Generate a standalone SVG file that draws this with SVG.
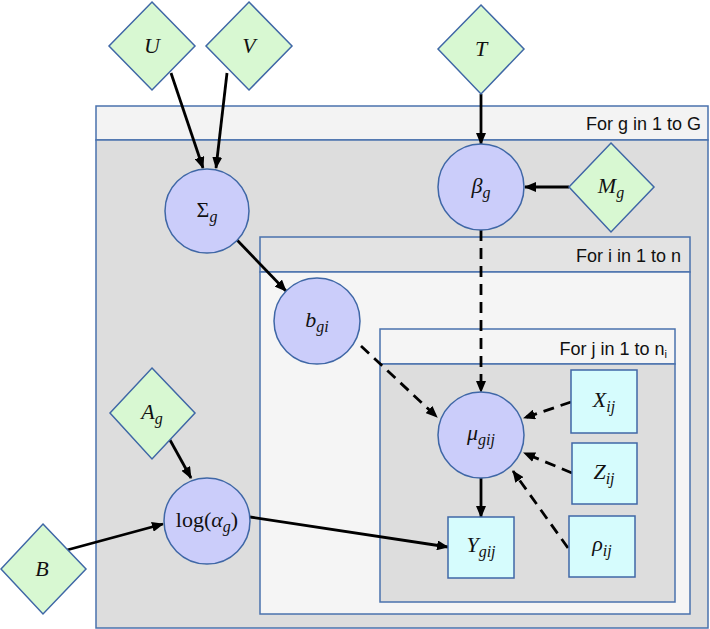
<svg xmlns="http://www.w3.org/2000/svg" width="710" height="629" viewBox="0 0 710 629">
<style>
.pl{stroke:#4a72ad;stroke-width:1.5}
.dm{fill:#d8f8d2;stroke:#3f67a6;stroke-width:1.5}
.ci{fill:#cbcdfa;stroke:#3f67a6;stroke-width:1.5}
.bx{fill:#d6fcfd;stroke:#3f67a6;stroke-width:1.5}
.m{font-family:"Liberation Serif","DejaVu Serif",serif;font-style:italic;font-size:22px;fill:#111;text-anchor:middle}
.up{font-style:normal}
.sub{font-size:16px}
.pt{font-family:"Liberation Sans","Open Sans",sans-serif;font-size:18px;fill:#111;text-anchor:end}
.e{stroke:#000;stroke-width:2.8;fill:none;marker-end:url(#ah)}
.d{stroke-dasharray:11 7}
</style>
<defs>
<marker id="ah" markerUnits="userSpaceOnUse" markerWidth="12" markerHeight="10" refX="11" refY="5" orient="auto">
<path d="M0,0 L12,5 L0,10 z" fill="#000"/>
</marker>
</defs>

<g id="plate-g">
<rect class="pl" x="96" y="106" width="612" height="34" fill="#f3f3f3"/>
<rect class="pl" x="96" y="140" width="612" height="488" fill="#dddddd"/>
<text class="pt" x="701" y="130">For g in 1 to G</text>
</g>
<g id="plate-i">
<rect class="pl" x="260" y="237" width="430" height="35" fill="#e3e3e3"/>
<rect class="pl" x="260" y="272" width="430" height="342" fill="#f5f5f5"/>
<text class="pt" x="681" y="262">For i in 1 to n</text>
</g>
<g id="plate-j">
<rect class="pl" x="380" y="329" width="295" height="35" fill="#f5f5f5"/>
<rect class="pl" x="380" y="364" width="295" height="238" fill="#dddddd"/>
<text class="pt" x="667" y="355">For j in 1 to n<tspan font-size="11" dy="3">i</tspan></text>
</g>

<g id="connectors">
<line class="e" x1="171" y1="73" x2="203" y2="168"/>
<line class="e" x1="227" y1="73" x2="216" y2="168"/>
<line class="e" x1="481" y1="94" x2="481" y2="144"/>
<line class="e" x1="569" y1="187" x2="525" y2="187"/>
<line class="e" x1="237" y1="240" x2="286" y2="291"/>
<line class="e d" x1="481" y1="230" x2="481" y2="392"/>
<line class="e d" x1="361" y1="346" x2="437" y2="417"/>
<line class="e d" x1="571" y1="402" x2="524" y2="418"/>
<line class="e d" x1="572" y1="473" x2="524" y2="453"/>
<line class="e d" x1="568" y1="548" x2="513" y2="471"/>
<line class="e" x1="481" y1="478" x2="481" y2="517"/>
<line class="e" x1="250" y1="517" x2="448" y2="547"/>
<line class="e" x1="170" y1="440" x2="191" y2="478"/>
<line class="e" x1="67" y1="550" x2="163" y2="524"/>
</g>

<g id="U"><polygon class="dm" points="152,2 195,46 152,90 109,46"/><text class="m" x="152" y="53">U</text></g>
<g id="V"><polygon class="dm" points="249,2 292,46 249,90 206,46"/><text class="m" x="249" y="53">V</text></g>
<g id="T"><polygon class="dm" points="481,5 524,49 481,94 438,49"/><text class="m" x="481" y="56">T</text></g>
<g id="Mg"><polygon class="dm" points="611,143 654,187 611,232 569,187"/><text class="m" x="611" y="193">M<tspan class="sub" dy="5">g</tspan></text></g>
<g id="Ag"><polygon class="dm" points="152,368 195,413 152,459 110,413"/><text class="m" x="152" y="419">A<tspan class="sub" dy="5">g</tspan></text></g>
<g id="B"><polygon class="dm" points="43,524 86,569 43,614 1,569"/><text class="m" x="42" y="576">B</text></g>

<g id="Sigma"><circle class="ci" cx="207" cy="211" r="42"/><text class="m" x="207" y="217"><tspan class="up">Σ</tspan><tspan class="sub" dy="5">g</tspan></text></g>
<g id="beta"><circle class="ci" cx="481" cy="187" r="43"/><text class="m" x="481" y="193">β<tspan class="sub" dy="5">g</tspan></text></g>
<g id="bgi"><circle class="ci" cx="317" cy="321" r="43"/><text class="m" x="317" y="327">b<tspan class="sub" dy="5">gi</tspan></text></g>
<g id="mu"><circle class="ci" cx="481" cy="435" r="43"/><text class="m" x="481" y="440">μ<tspan class="sub" dy="5">gij</tspan></text></g>
<g id="logalpha"><circle class="ci" cx="207" cy="521" r="43"/><text class="m" x="207" y="527"><tspan class="up">log(</tspan>α<tspan class="sub" dy="5">g</tspan><tspan class="up" dy="-5">)</tspan></text></g>

<g id="Xij"><rect class="bx" x="571" y="370" width="66" height="63"/><text class="m" x="604" y="407">X<tspan class="sub" dy="5">ij</tspan></text></g>
<g id="Zij"><rect class="bx" x="572" y="443" width="65" height="61"/><text class="m" x="604" y="479">Z<tspan class="sub" dy="5">ij</tspan></text></g>
<g id="rhoij"><rect class="bx" x="569" y="516" width="66" height="61"/><text class="m" x="602" y="551">ρ<tspan class="sub" dy="5">ij</tspan></text></g>
<g id="Ygij"><rect class="bx" x="448" y="517" width="66" height="61"/><text class="m" x="481" y="552">Y<tspan class="sub" dy="5">gij</tspan></text></g>
</svg>
